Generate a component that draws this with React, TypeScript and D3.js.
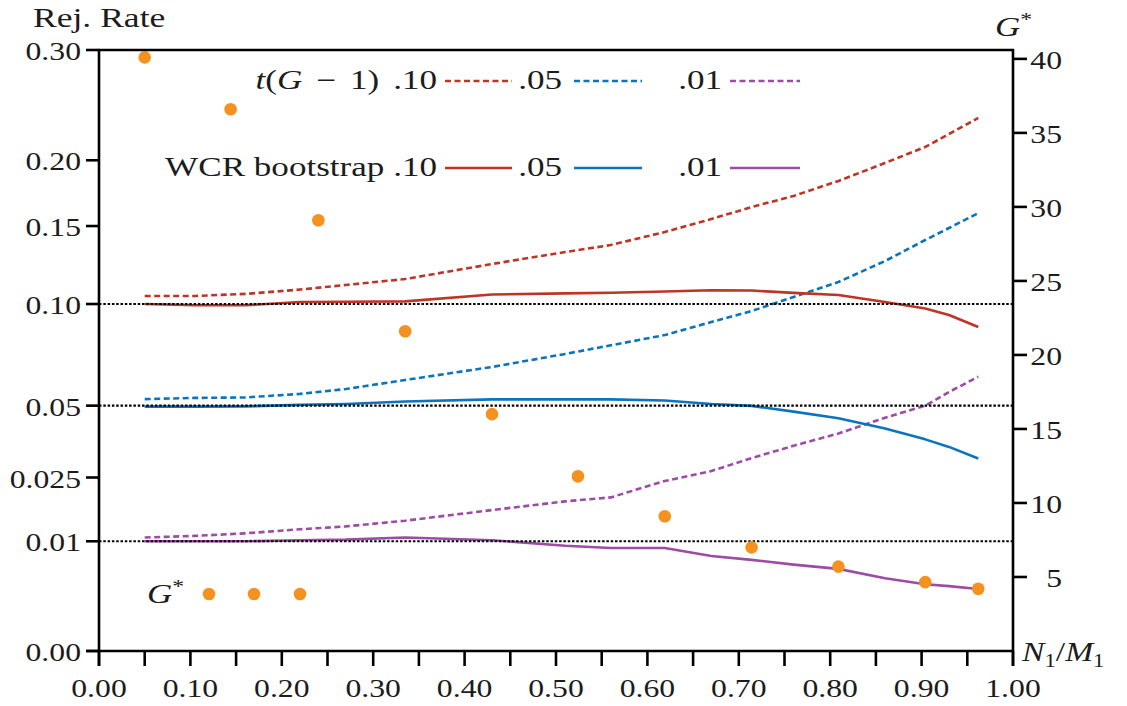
import React from "react";
import * as d3 from "d3";

// ---- data ----
const xTicks = [0, 0.05, 0.1, 0.15, 0.2, 0.25, 0.3, 0.35, 0.4, 0.45, 0.5, 0.55, 0.6, 0.65, 0.7, 0.75, 0.8, 0.85, 0.9, 0.95, 1.0];
const xTickLabels = ["0.00", "0.10", "0.20", "0.30", "0.40", "0.50", "0.60", "0.70", "0.80", "0.90", "1.00"];
const xLabelValues = [0, 0.1, 0.2, 0.3, 0.4, 0.5, 0.6, 0.7, 0.8, 0.9, 1.0];
const rateTicks = [0, 0.01, 0.025, 0.05, 0.1, 0.15, 0.2, 0.3];
const rateTickLabels = ["0.00", "0.01", "0.025", "0.05", "0.10", "0.15", "0.20", "0.30"];
const gTicks = [5, 10, 15, 20, 25, 30, 35, 40];
const refLevels = [0.01, 0.05, 0.1];

const gridX = [0.05, 0.105, 0.16, 0.22, 0.27, 0.335, 0.43, 0.51, 0.56, 0.619, 0.67, 0.714, 0.76, 0.809, 0.86, 0.904, 0.93, 0.962];
const tRate10 = [0.1047, 0.1047, 0.1059, 0.1085, 0.1113, 0.1149, 0.1244, 0.1322, 0.1369, 0.1458, 0.155, 0.1637, 0.172, 0.1835, 0.1978, 0.211, 0.222, 0.236];
const tRate05 = [0.0527, 0.0532, 0.0534, 0.0549, 0.057, 0.061, 0.067, 0.0733, 0.0776, 0.0829, 0.0899, 0.096, 0.1041, 0.1131, 0.1263, 0.1403, 0.1486, 0.1593];
const tRate01 = [0.0107, 0.011, 0.0115, 0.0123, 0.0129, 0.0141, 0.0165, 0.0186, 0.0196, 0.024, 0.0269, 0.0309, 0.035, 0.0393, 0.0452, 0.05, 0.0557, 0.0625];
const wcr10 = [0.1, 0.0993, 0.0993, 0.1012, 0.1013, 0.1015, 0.1056, 0.1062, 0.1066, 0.1073, 0.1081, 0.1079, 0.1065, 0.1053, 0.1012, 0.0974, 0.0938, 0.0872];
const wcr05 = [0.0496, 0.0496, 0.0497, 0.0503, 0.0507, 0.0517, 0.0526, 0.0526, 0.0526, 0.0521, 0.0507, 0.0499, 0.0476, 0.045, 0.0411, 0.0372, 0.0346, 0.0308];
const wcr01 = [0.01, 0.01, 0.01, 0.0102, 0.0103, 0.0107, 0.0102, 0.0092, 0.0088, 0.0088, 0.0075, 0.0069, 0.0062, 0.0056, 0.0044, 0.0037, 0.0035, 0.0032];

const gStarX = [0.05, 0.144, 0.24, 0.335, 0.43, 0.524, 0.619, 0.714, 0.809, 0.904, 0.962];
const gStarValues = [40.1, 36.6, 29.1, 21.6, 16.0, 11.8, 9.1, 7.0, 5.7, 4.65, 4.2];

const RED = "#BE3526";
const BLUE = "#0B74BF";
const PURPLE = "#9C4CA4";
const ORANGE = "#F5921F";
const INK = "#1c1c1c";
const FONT = "'Liberation Serif', 'Times New Roman', serif";

const series = [
  { values: tRate10, color: RED, dashed: true },
  { values: tRate05, color: BLUE, dashed: true },
  { values: tRate01, color: PURPLE, dashed: true },
  { values: wcr10, color: RED, dashed: false },
  { values: wcr05, color: BLUE, dashed: false },
  { values: wcr01, color: PURPLE, dashed: false },
];

function T({ x, y, anchor = "start", size = 26, sx = 1.22, children, style }: any) {
  return (
    <text
      transform={`translate(${x},${y}) scale(${sx},1)`}
      textAnchor={anchor}
      fontFamily={FONT}
      fontSize={size}
      fill={INK}
      style={style}
    >
      {children}
    </text>
  );
}

export default function App() {
  const L = 99, R = 1013, TOP = 50, BOT = 651;
  const x = d3.scaleLinear().domain([0, 1]).range([L, R]);
  const y = d3.scaleSqrt().domain([0, 0.3]).range([BOT, TOP]);
  const yG = d3.scaleLinear().domain([0, 40.6]).range([BOT, TOP]);

  const line = d3
    .line<[number, number]>()
    .x((d) => x(d[0]))
    .y((d) => y(d[1]));

  const legendItems = [
    { label: ".10", end: 437, x1: 445, x2: 512, color: RED },
    { label: ".05", end: 562, x1: 574, x2: 642, color: BLUE },
    { label: ".01", end: 722, x1: 730, x2: 800, color: PURPLE },
  ];

  return (
    <svg
      width={1127}
      height={706}
      style={{ position: "absolute", left: 0, top: 0, background: "#fff" }}
    >
      <rect x={0} y={0} width={1127} height={706} fill="#fff" />

      {/* series lines */}
      {series.map((s, i) => (
        <path
          key={i}
          d={line(gridX.map((gx, j) => [gx, s.values[j]]) as [number, number][]) || ""}
          fill="none"
          stroke={s.color}
          strokeWidth={2.6}
          strokeDasharray={s.dashed ? "6,3.5" : undefined}
          strokeLinejoin="round"
        />
      ))}

      {/* reference dotted lines */}
      {refLevels.map((r) => (
        <line
          key={r}
          x1={L}
          x2={R}
          y1={y(r)}
          y2={y(r)}
          stroke="#000"
          strokeWidth={2.2}
          strokeDasharray="2.5,1.8"
        />
      ))}

      {/* G* dots */}
      {gStarX.map((gx, i) => (
        <circle key={i} cx={x(gx)} cy={yG(gStarValues[i])} r={6.3} fill={ORANGE} />
      ))}

      {/* frame */}
      <line x1={L} x2={L} y1={TOP - 1} y2={BOT + 15} stroke="#000" strokeWidth={2.6} />
      <line x1={R} x2={R} y1={TOP - 1} y2={BOT + 15} stroke="#000" strokeWidth={2.6} />
      <line x1={L - 1} x2={R + 1} y1={TOP} y2={TOP} stroke="#000" strokeWidth={2.6} />
      <line x1={L - 13} x2={R + 1} y1={BOT} y2={BOT} stroke="#000" strokeWidth={2.6} />

      {/* left ticks */}
      {rateTicks.map((t, i) => (
        <g key={t}>
          <line x1={L - 13} x2={L} y1={y(t)} y2={y(t)} stroke="#000" strokeWidth={2.6} />
          <T x={81} y={y(t) + 10} anchor="end">{rateTickLabels[i]}</T>
        </g>
      ))}

      {/* right ticks */}
      {gTicks.map((t) => (
        <g key={t}>
          <line x1={R} x2={R + 14} y1={yG(t)} y2={yG(t)} stroke="#000" strokeWidth={2.6} />
          <T x={1062} y={yG(t) + 10} anchor="end">{String(t)}</T>
        </g>
      ))}

      {/* bottom ticks */}
      {xTicks.map((t) => (
        <line key={t} x1={x(t)} x2={x(t)} y1={BOT} y2={BOT + 15} stroke="#000" strokeWidth={2.6} />
      ))}
      {xLabelValues.map((t, i) => (
        <T key={t} x={x(t)} y={697} anchor="middle">{xTickLabels[i]}</T>
      ))}

      {/* axis titles */}
      <T x={33} y={27} size={28} sx={1.27}>Rej. Rate</T>
      <T x={995} y={36} size={28} sx={1.25}>
        <tspan fontStyle="italic">G</tspan>
        <tspan fontSize={19} dy={-10}>*</tspan>
      </T>
      <T x={1022} y={661} size={28} sx={1.2}>
        <tspan fontStyle="italic">N</tspan>
        <tspan fontSize={19} dy={6}>1</tspan>
        <tspan dy={-6}>/</tspan>
        <tspan fontStyle="italic">M</tspan>
        <tspan fontSize={19} dy={6}>1</tspan>
      </T>

      {/* legend row 1: t(G-1) */}
      <T x={legendItems[0].end} y={89} anchor="end" size={27} sx={1.3}>
        <tspan fontStyle="italic">t</tspan>
        <tspan>(</tspan>
        <tspan fontStyle="italic">G</tspan>
        <tspan style={{ wordSpacing: "4px" }}>{" \u2212 1) .10"}</tspan>
      </T>
      {legendItems.slice(1).map((it) => (
        <T key={"a" + it.label} x={it.end} y={89} anchor="end" size={27} sx={1.3}>{it.label}</T>
      ))}
      {legendItems.map((it) => (
        <line key={"la" + it.label} x1={it.x1} x2={it.x2} y1={81} y2={81} stroke={it.color} strokeWidth={2.6} strokeDasharray="6,3.5" />
      ))}

      {/* legend row 2: WCR bootstrap */}
      <T x={legendItems[0].end} y={176} anchor="end" size={27} sx={1.3}>WCR bootstrap .10</T>
      {legendItems.slice(1).map((it) => (
        <T key={"b" + it.label} x={it.end} y={176} anchor="end" size={27} sx={1.3}>{it.label}</T>
      ))}
      {legendItems.map((it) => (
        <line key={"lb" + it.label} x1={it.x1} x2={it.x2} y1={168} y2={168} stroke={it.color} strokeWidth={2.6} />
      ))}

      {/* G* legend */}
      <T x={147} y={603} size={28} sx={1.25}>
        <tspan fontStyle="italic">G</tspan>
        <tspan fontSize={19} dy={-10}>*</tspan>
      </T>
      {[209, 254, 300].map((cx) => (
        <circle key={cx} cx={cx} cy={594} r={6.3} fill={ORANGE} />
      ))}
    </svg>
  );
}
